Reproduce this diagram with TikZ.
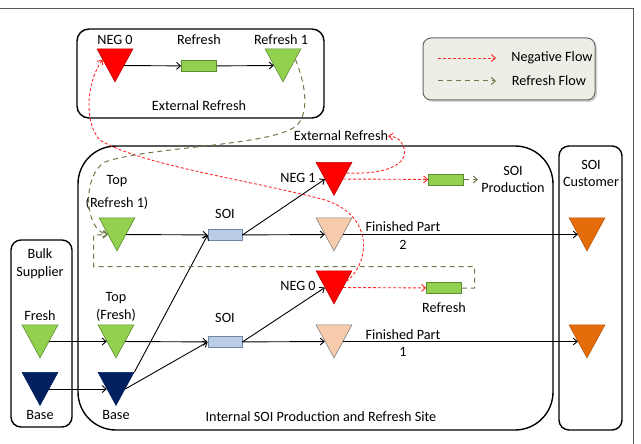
\documentclass[tikz,border=0pt]{standalone}
\usepackage{fontspec}
\setmainfont{Carlito}
\usetikzlibrary{shapes.geometric,arrows.meta,shadows}

\definecolor{negrot}{HTML}{FF0000}
\definecolor{negrand}{HTML}{C00000}
\definecolor{frischgruen}{HTML}{92D050}
\definecolor{gruenrand}{HTML}{5E8C31}
\definecolor{basisblau}{HTML}{002060}
\definecolor{teilpfirsich}{HTML}{F8CBAD}
\definecolor{kundenorange}{HTML}{E46C0A}
\definecolor{orangerand}{HTML}{B5560A}
\definecolor{soiblau}{HTML}{B9CDE5}
\definecolor{soirand}{HTML}{6F86A8}
\definecolor{flussrot}{HTML}{FF2A2A}
\definecolor{flussoliv}{HTML}{6F7A4A}
\definecolor{legendegrau}{HTML}{EEEDE6}

\begin{document}
\begin{tikzpicture}[x=1pt,y=-1pt,
    txt/.style={font=\fontsize{14.2}{17.5}\selectfont, inner sep=0pt, align=center},
    dreieck/.style={isosceles triangle, isosceles triangle apex angle=57,
        shape border rotate=-90, inner sep=0pt, minimum height=33pt,
        minimum width=35pt, anchor=apex, line width=0.6pt},
    negdreieck/.style={dreieck, fill=negrot, draw=negrand},
    frischdreieck/.style={dreieck, fill=frischgruen, draw=gruenrand},
    basisdreieck/.style={dreieck, fill=basisblau, draw=basisblau},
    teildreieck/.style={dreieck, fill=teilpfirsich, draw=gray},
    kundendreieck/.style={dreieck, fill=kundenorange, draw=orangerand},
    refkasten/.style={rectangle, inner sep=0pt, minimum width=35pt, minimum height=11pt,
        fill=frischgruen, draw=gruenrand, line width=0.7pt},
    soikasten/.style={rectangle, inner sep=0pt, minimum width=34pt, minimum height=11pt,
        fill=soiblau, draw=soirand, line width=0.7pt},
    bereich/.style={draw, line width=1.4pt, rounded corners=#1},
    fluss/.style={line width=0.9pt, -{Straight Barb[length=4pt,width=7pt]}},
    negfluss/.style={line width=0.9pt, draw=flussrot, dash pattern=on 3pt off 2pt,
        -{Straight Barb[length=4pt,width=7pt]}},
    reffluss/.style={line width=1pt, draw=flussoliv, dash pattern=on 5pt off 4pt,
        -{Straight Barb[length=4pt,width=7pt]}},
]
    % Rahmen
    \useasboundingbox (0,0) rectangle (641,444);
    \draw[gray!70!black, line width=1pt] (0,8.5) -- (633.5,8.5) -- (633.5,444);

    % Bereiche
    \draw[bereich=12pt] (77,29) rectangle (324,118);
    \draw[bereich=38pt] (78,146) rectangle (553,430);
    \draw[bereich=10pt] (11,240) rectangle (72,427);
    \draw[bereich=10pt] (559,146) rectangle (622,430);
    \draw[fill=legendegrau, draw=gray!80!black, line width=1pt, rounded corners=8pt,
        drop shadow={opacity=0.35, shadow xshift=2pt, shadow yshift=-2pt}]
        (423,38) rectangle (595,100);

    % Externe Auffrischung
    \node[negdreieck] (negext) at (115,82.5) {};
    \node[refkasten] (extkasten) at (199,66) {};
    \node[frischdreieck] (refeins) at (283,82.5) {};
    \node[txt] (negextlbl) at (115,40) {NEG 0};
    \node[txt] (extkastenlbl) at (199,40) {Refresh};
    \node[txt] (refeinslbl) at (281,40) {Refresh 1};
    \node[txt] (extlbl) at (199,106) {External Refresh};

    % Legende
    \coordinate (legnegA) at (438,58);
    \coordinate (legnegB) at (496,58);
    \coordinate (legrefA) at (438,81);
    \coordinate (legrefB) at (496,81);
    \node[txt] (legneglbl) at (552,58) {Negative Flow};
    \node[txt] (legreflbl) at (549,81) {Refresh Flow};

    % Lieferant
    \node[txt] (bulklbl) at (40,263.5) {Bulk\\Supplier};
    \node[frischdreieck] (frisch) at (40,358.5) {};
    \node[basisdreieck] (basis) at (40,406) {};
    \node[txt] (frischlbl) at (40,316) {Fresh};
    \node[txt] (basislbl) at (40,415) {Base};

    % Interne Fertigung
    \node[frischdreieck] (topref) at (117,251.5) {};
    \node[frischdreieck] (topfrisch) at (116,358.5) {};
    \node[basisdreieck] (topbasis) at (116,406) {};
    \node[soikasten] (soioben) at (225,235) {};
    \node[soikasten] (soiunten) at (225,342) {};
    \node[negdreieck] (negeins) at (334,196) {};
    \node[teildreieck] (teilzwei) at (334,251.5) {};
    \node[negdreieck] (negnull) at (334,304.5) {};
    \node[teildreieck] (teileins) at (334,358.5) {};
    \node[refkasten] (prodkasten) at (446,179.5) {};
    \node[refkasten] (refkasten) at (444,288) {};
    \coordinate (prodaus) at (478,179.5);

    \node[txt] (toprefoben) at (117,181) {Top};
    \node[txt] (toprefunten) at (117,203) {(Refresh 1)};
    \node[txt] (topfrischlbl) at (116,307) {Top\\(Fresh)};
    \node[txt] (topbasislbl) at (116,415) {Base};
    \node[txt] (soiobenlbl) at (225,214) {SOI};
    \node[txt] (soiuntenlbl) at (225,318) {SOI};
    \node[txt] (negeinslbl) at (298,178) {NEG 1};
    \node[txt] (negnulllbl) at (298,286) {NEG 0};
    \node[txt] (teilzweilbl) at (403,235.5) {Finished Part\\2};
    \node[txt] (teileinslbl) at (403,343) {Finished Part\\1};
    \node[txt] (prodlbl) at (513,179.5) {SOI\\Production};
    \node[txt] (refkastenlbl) at (444,308) {Refresh};
    \node[txt] (intextlbl) at (341,136) {External Refresh};
    \node[txt] (sitelbl) at (321,417) {Internal SOI Production and Refresh Site};

    % Kunde
    \node[txt] (kundelbl) at (591,173.5) {SOI\\Customer};
    \node[kundendreieck] (kundezwei) at (587,251.5) {};
    \node[kundendreieck] (kundeeins) at (587,358.5) {};

    % Materialfluss
    \draw[fluss] (negext.left side) -- (extkasten);
    \draw[fluss] (extkasten) -- (refeins.right side);
    \draw[fluss] (frisch.left side) -- (topfrisch.right side);
    \draw[fluss] (basis.left side) -- (topbasis.right side);
    \draw[fluss] (topfrisch.left side) -- (soiunten);
    \draw[fluss] (topbasis.left side) -- (soiunten.west);
    \draw[fluss] (topbasis.left corner) -- (soioben.west);
    \draw[fluss] (topref.left side) -- (soioben);
    \draw[fluss] (soioben.east) -- (negeins);
    \draw[fluss] (soioben) -- (teilzwei.right side);
    \draw[fluss] (soiunten.east) -- (negnull);
    \draw[fluss] (soiunten) -- (teileins.right side);
    \draw[fluss] (teilzwei.left side) -- (kundezwei.right side);
    \draw[fluss] (teileins.left side) -- (kundeeins.right side);

    % Negativfluss
    \draw[negfluss] (legnegA) -- (legnegB);
    \draw[negfluss] (negeins.left side) -- (prodkasten);
    \draw[negfluss] (negnull.left side) -- (refkasten);
    \draw[negfluss] (negeins.east) .. controls (395,175) and (408,160) .. (404,148)
        .. controls (401,140) and (398,137) .. (intextlbl.east);
    \draw[negfluss] (negnull.east) .. controls (372,260) and (372,215) .. (325,200)
        .. controls (250,180) and (140,165) .. (100,140)
        .. controls (85,125) and (85,85) .. (negext.west);

    % Auffrischfluss
    \draw[reffluss] (legrefA) -- (legrefB);
    \draw[reffluss] (prodkasten) -- (prodaus);
    \draw[reffluss] (refkasten.east) -| (474.5,266.5) -| (93.5,235) -- (topref.right side);
    \draw[reffluss] (refeins.east) .. controls (307,88) and (308,112) .. (298,124)
        .. controls (280,146) and (150,146) .. (105,162)
        .. controls (82,175) and (84,230) .. (topref.right side);
\end{tikzpicture}
\end{document}
